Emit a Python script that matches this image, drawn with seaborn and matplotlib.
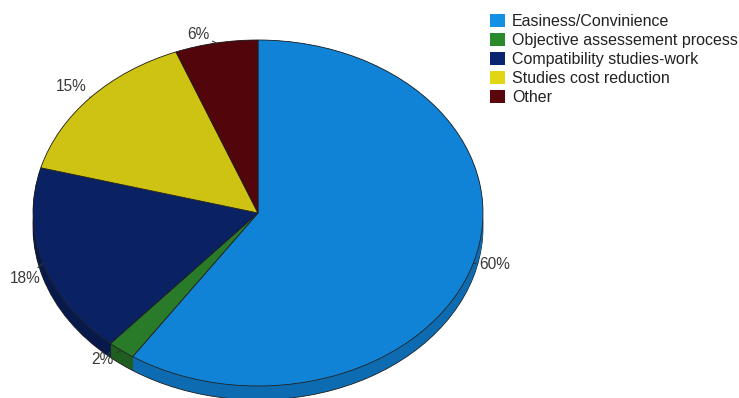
import matplotlib
matplotlib.use("Agg")
import matplotlib.pyplot as plt
from matplotlib.patches import Patch
import numpy as np
import seaborn as sns

# Survey answers: reasons for choosing the programme
categories = ["Easiness/Convinience", "Objective assessement process",
              "Compatibility studies-work", "Studies cost reduction", "Other"]
shares = [60, 2, 18, 15, 6]
pct_labels = ["60%", "2%", "18%", "15%", "6%"]

top_colors = ["#1083d6", "#2a7b29", "#0a2263", "#cec312", "#52050a"]
side_colors = ["#0d6cb1", "#1f5e1f", "#07194b", "#a59c0e", "#3c0407"]
legend_colors = ["#1490e2", "#2a8a2a", "#0a2470", "#e2d614", "#5a060b"]

sns.set_theme(style="white")
plt.rcParams["font.family"] = ["Liberation Sans", "DejaVu Sans"]

fig = plt.figure(figsize=(7.39, 3.98), dpi=100)
ax = fig.add_axes([33 / 739, 1 - 403.3 / 398, 450 / 739, 363.3 / 398])

depth = 0.08
# extruded side of the pie: stacked, slightly darker copies shifted downward
for d in np.linspace(depth, 0.0, 16):
    ax.pie(shares, colors=side_colors, startangle=90, counterclock=False,
           center=(0, -d), radius=1.0,
           wedgeprops=dict(linewidth=0.6 if d == depth else 0,
                           edgecolor="#1a1a1a"))

# top face
wedges, _ = ax.pie(shares, colors=top_colors, startangle=90, counterclock=False,
                   center=(0, 0), radius=1.0,
                   wedgeprops=dict(linewidth=0.6, edgecolor="#222222"))

ax.set_aspect("auto")
ax.set_xlim(-1, 1)
ax.set_ylim(-1 - 0.1, 1)
ax.axis("off")

# percentage labels with short leader lines (offsets in pixels)
label_offsets = [(6, -1), (-8, -9), (-2, -15), (-4, 11), (-7, 9)]
for w, txt, (dx, dy) in zip(wedges, pct_labels, label_offsets):
    mid = np.deg2rad((w.theta1 + w.theta2) / 2)
    x, y = np.cos(mid), np.sin(mid)
    ax.annotate(txt, xy=(x, y), xytext=(dx, dy), textcoords="offset pixels",
                ha="left" if x > 0 else "right", va="center",
                fontsize=11.2, color="#3a3a3a",
                arrowprops=dict(arrowstyle="-", color="#333333", lw=0.8,
                                shrinkA=0, shrinkB=0))

handles = [Patch(facecolor=c, edgecolor="none") for c in legend_colors]
fig.legend(handles, categories, loc="upper left",
           bbox_to_anchor=(490 / 739, 1 - 14 / 398),
           frameon=False, fontsize=11.5, handlelength=0.95, handleheight=0.9,
           handletextpad=0.42, labelspacing=0.24, borderpad=0, borderaxespad=0,
           labelcolor="#222222")

fig.savefig("out.png", dpi=100)
